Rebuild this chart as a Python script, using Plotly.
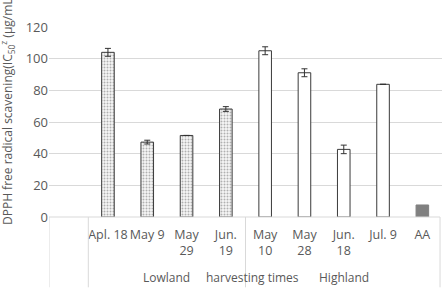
import plotly.graph_objects as go

categories = ["Apl. 18", "May 9", "May<br>29", "Jun.<br>19", "May<br>10", "May<br>28", "Jun.<br>18", "Jul. 9", "AA"]
values = [104.0, 47.3, 51.5, 68.2, 105.0, 91.1, 42.7, 83.8, 7.6]
errors = [2.5, 1.2, 0.0, 1.5, 2.5, 2.5, 2.7, 0.0, 0.0]
groups = ["Lowland", "Lowland", "Lowland", "Lowland", "Highland", "Highland", "Highland", "Highland", "AA"]
y_ticks = [0, 20, 40, 60, 80, 100, 120]

xpos = list(range(1, len(categories) + 1))
TXT = "#595959"
GRID = "#d9d9d9"
FONT = "Open Sans"

fig = go.Figure()

def sel(g):
    return [i for i, gg in enumerate(groups) if gg == g]

low = sel("Lowland")
fig.add_trace(go.Bar(
    x=[xpos[i] for i in low], y=[values[i] for i in low], width=0.32,
    marker=dict(color="white", line=dict(color="#3a3a3a", width=1),
                pattern=dict(shape=".", size=3, solidity=0.35, fgcolor="#6a6a6a", bgcolor="#f6f6f6")),
    error_y=dict(type="data", array=[errors[i] for i in low], color="#333333", thickness=1, width=3),
    showlegend=False))

high = sel("Highland")
fig.add_trace(go.Bar(
    x=[xpos[i] for i in high], y=[values[i] for i in high], width=0.32,
    marker=dict(color="white", line=dict(color="#3a3a3a", width=1)),
    error_y=dict(type="data", array=[errors[i] for i in high], color="#333333", thickness=1, width=3),
    showlegend=False))

aa = sel("AA")
fig.add_trace(go.Bar(
    x=[xpos[i] for i in aa], y=[values[i] for i in aa], width=0.32,
    marker=dict(color="#808080", line=dict(color="#808080", width=1)),
    showlegend=False))

# axis box lines under the plot
for xv in [-0.5, 0.5, 4.5, 9.45]:
    fig.add_shape(type="line", xref="x", yref="paper", x0=xv, x1=xv, y0=0, y1=-0.37,
                  line=dict(color=GRID, width=1))
fig.add_shape(type="line", xref="x", yref="paper", x0=-0.5, x1=9.45, y0=0, y1=0,
              line=dict(color=GRID, width=1))

for txt, xv in [("Lowland", 2.5), ("harvesting times", 4.67), ("Highland", 7.0)]:
    fig.add_annotation(text=txt, x=xv, xref="x", y=-0.321, yref="paper", showarrow=False,
                       font=dict(family=FONT, size=12, color=TXT), xanchor="center", yanchor="middle")

fig.add_annotation(text="DPPH free radical scavening(IC<sub>50</sub><sup>z</sup> (μg/mL))",
                   x=-0.1043, xref="paper", y=-0.0526, yref="paper", textangle=-90,
                   showarrow=False, xanchor="center", yanchor="bottom",
                   font=dict(family=FONT, size=12, color=TXT))

fig.update_layout(
    width=448, height=288,
    margin=dict(l=49, r=6, t=27, b=71),
    plot_bgcolor="white", paper_bgcolor="white",
    font=dict(family=FONT, size=12, color=TXT),
    xaxis=dict(range=[-0.5, 9.5], tickvals=xpos, ticktext=categories, showgrid=False,
               zeroline=False, showline=False, ticks="", tickangle=0,
               tickfont=dict(size=12.5, color=TXT), ticklabelstandoff=8),
    yaxis=dict(range=[0, 120], tickvals=y_ticks, showgrid=True, gridcolor=GRID, gridwidth=1,
               zeroline=False, showline=False, ticks="", tickfont=dict(size=13, color=TXT)),
)

fig.write_html("out.html")
